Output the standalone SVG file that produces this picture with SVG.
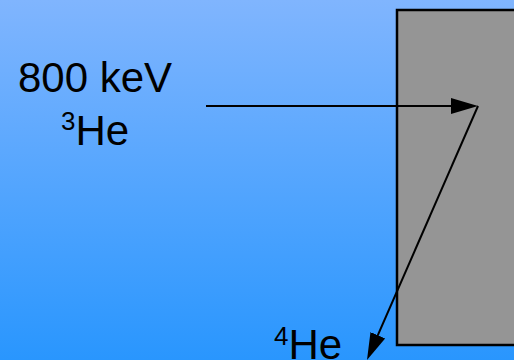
<svg xmlns="http://www.w3.org/2000/svg" width="514" height="360" viewBox="0 0 514 360">
<defs>
<linearGradient id="bg" x1="0" y1="0" x2="0" y2="1">
<stop offset="0" stop-color="#80b5fe"/>
<stop offset="1" stop-color="#2996fe"/>
</linearGradient>
<marker id="ah" markerUnits="userSpaceOnUse" markerWidth="28" markerHeight="18" refX="20" refY="8" orient="auto" viewBox="0 0 28 16">
<path d="M0,0 L27,8 L0,16 z" fill="#000"/>
</marker>
<style>
text{font-family:"Liberation Sans",Arial,sans-serif;fill:#000}
.big{font-size:42px}
.sup{font-size:26px}
.conn{stroke:#000;stroke-width:2;fill:none;marker-end:url(#ah)}
</style>
</defs>
<rect width="514" height="360" fill="url(#bg)"/>
<g id="target">
<rect x="397" y="10" width="130" height="335" fill="#959595" stroke="#000" stroke-width="2.5"/>
</g>
<g id="label-incident">
<text class="big" x="95" y="92" text-anchor="middle">800 keV</text>
<text class="big" x="95" y="145" text-anchor="middle"><tspan class="sup" dy="-15">3</tspan><tspan dy="15">He</tspan></text>
</g>
<g id="label-outgoing">
<text class="big" x="308" y="359" text-anchor="middle"><tspan class="sup" dy="-14">4</tspan><tspan dy="14">He</tspan></text>
</g>
<g id="connectors">
<line class="conn" x1="206" y1="106" x2="471" y2="106"/>
<line class="conn" x1="478" y1="106" x2="369.8" y2="353.6"/>
</g>
</svg>
